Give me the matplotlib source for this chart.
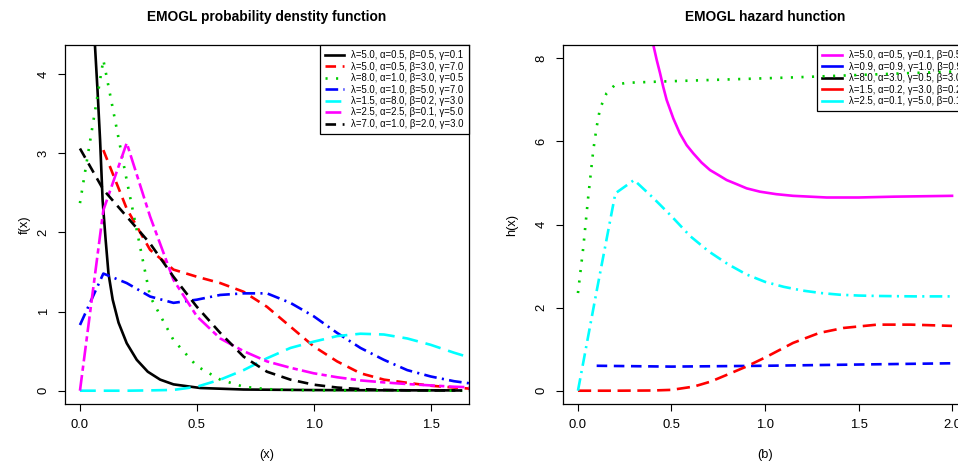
import matplotlib
matplotlib.use("Agg")
import matplotlib.pyplot as plt
import numpy as np

plt.rcParams['font.family'] = ['Liberation Sans', 'DejaVu Sans']

# ---------------- PDF panel data ----------------
pdf_labels = ["λ=5.0, α=0.5, β=0.5, γ=0.1",
              "λ=5.0, α=0.5, β=3.0, γ=7.0",
              "λ=8.0, α=1.0, β=3.0, γ=0.5",
              "λ=5.0, α=1.0, β=5.0, γ=7.0",
              "λ=1.5, α=8.0, β=0.2, γ=3.0",
              "λ=2.5, α=2.5, β=0.1, γ=5.0",
              "λ=7.0, α=1.0, β=2.0, γ=3.0"]
pdf_colors = ["black", "#FF0000", "#00CD00", "#0000FF", "#00FFFF", "#FF00FF", "black"]

x_black = [0.03, 0.05, 0.064, 0.075, 0.086, 0.097, 0.11, 0.122, 0.14, 0.165, 0.2,
           0.243, 0.29, 0.343, 0.4, 0.515, 0.7, 1.0, 1.3, 1.6]
y_black = [12.0, 6.5, 4.37, 3.8, 3.17, 2.4, 1.9, 1.48, 1.15, 0.86, 0.6,
           0.39, 0.24, 0.14, 0.08, 0.034, 0.015, 0.008, 0.005, 0.004]

x_grid = [0.0, 0.1, 0.2, 0.3, 0.4, 0.5, 0.6, 0.7, 0.8, 0.9, 1.0,
          1.1, 1.2, 1.3, 1.4, 1.5, 1.6, 1.7]
x_red = x_grid[1:]
y_red = [3.04, 2.3, 1.78, 1.53, 1.44, 1.36, 1.25, 1.06, 0.81, 0.56,
         0.37, 0.22, 0.14, 0.10, 0.063, 0.04, 0.02]
y_green = [2.37, 4.18, 2.66, 1.19, 0.64, 0.31, 0.14, 0.05, 0.02, 0.01, 0.005,
           0.003, 0.002, 0.001, 0.001, 0.0, 0.0, 0.0]
y_blue = [0.83, 1.48, 1.36, 1.19, 1.11, 1.15, 1.21, 1.23, 1.23, 1.11, 0.94,
          0.73, 0.54, 0.39, 0.26, 0.18, 0.12, 0.08]
y_cyan = [0.0, 0.0, 0.0, 0.004, 0.01, 0.05, 0.14, 0.26, 0.41, 0.54, 0.62,
          0.69, 0.72, 0.71, 0.66, 0.58, 0.48, 0.39]
y_magenta = [0.0, 2.28, 3.13, 2.2, 1.4, 0.94, 0.66, 0.5, 0.37, 0.29, 0.22,
             0.17, 0.13, 0.105, 0.084, 0.067, 0.05, 0.04]
y_blackdash = [3.06, 2.54, 2.2, 1.86, 1.44, 1.06, 0.73, 0.43, 0.24, 0.14, 0.076,
               0.04, 0.02, 0.01, 0.005, 0.004, 0.003, 0.003]

# ---------------- Hazard panel data ----------------
haz_labels = ["λ=5.0, α=0.5, γ=0.1, β=0.5",
              "λ=0.9, α=0.9, γ=1.0, β=0.9",
              "λ=8.0, α=3.0, γ=0.5, β=3.0",
              "λ=1.5, α=0.2, γ=3.0, β=0.2",
              "λ=2.5, α=0.1, γ=5.0, β=0.1"]
haz_colors = ["#FF00FF", "#0000FF", "black", "#FF0000", "#00FFFF"]

xh_mag = [0.34, 0.37, 0.403, 0.421, 0.439, 0.456, 0.474, 0.51, 0.545, 0.581,
          0.617, 0.661, 0.706, 0.751, 0.795, 0.849, 0.902, 0.973, 1.06, 1.15,
          1.33, 1.5, 1.69, 2.0]
yh_mag = [10.3, 9.2, 8.32, 7.96, 7.64, 7.31, 7.0, 6.55, 6.19, 5.91,
          5.71, 5.49, 5.31, 5.19, 5.07, 4.97, 4.87, 4.79, 4.73, 4.69,
          4.65, 4.65, 4.67, 4.69]
xh_blue = [0.1, 0.5, 1.0, 1.5, 2.0]
yh_blue = [0.6, 0.58, 0.6, 0.63, 0.66]
xh_green = [0.0, 0.029, 0.055, 0.082, 0.1, 0.118, 0.153, 0.198, 0.26, 0.438,
            0.795, 1.15, 1.51, 2.0]
yh_green = [2.35, 3.47, 4.67, 5.79, 6.35, 6.79, 7.16, 7.36, 7.41, 7.44,
            7.49, 7.54, 7.6, 7.68]
xh_red = [0.0, 0.2, 0.4, 0.5, 0.62, 0.71, 0.795, 0.9, 1.01, 1.15, 1.29, 1.42,
          1.6, 1.78, 2.0]
yh_red = [0.0, 0.0, 0.005, 0.02, 0.1, 0.22, 0.38, 0.58, 0.82, 1.15, 1.39, 1.51,
          1.59, 1.59, 1.56]
xh_cyan = [0.0, 0.1, 0.2, 0.3, 0.4, 0.5, 0.6, 0.7, 0.8, 0.9, 1.0, 1.1, 1.2,
           1.3, 1.4, 1.5, 1.6, 1.8, 2.0]
yh_cyan = [0.0, 2.4, 4.75, 5.07, 4.65, 4.2, 3.72, 3.35, 3.05, 2.8, 2.62, 2.5,
           2.41, 2.35, 2.31, 2.29, 2.28, 2.27, 2.27]

# ---------------- Figure ----------------
W, H = 958, 463
fig = plt.figure(figsize=(W / 100, H / 100), dpi=100)
ax1 = fig.add_axes([65 / W, 59 / H, 404 / W, 359 / H])
ax2 = fig.add_axes([563 / W, 59 / H, 404 / W, 359 / H])

LW = 1.9
dash = (4, 2.5)
dots = (0.8, 3.2)
dotdash = (4.8, 2, 0.8, 2)
longdash = (6, 3)
twodash = (6, 1.6, 2, 1.6)

TITLE_FS = 9.9
TICK_FS = 9.4
LAB_FS = 9.2
LEG_FS = 6.9

ax1.plot(x_black, y_black, color=pdf_colors[0], lw=LW, label=pdf_labels[0])
ax1.plot(x_red, y_red, color=pdf_colors[1], lw=LW, dashes=dash, label=pdf_labels[1])
ax1.plot(x_grid, y_green, color=pdf_colors[2], lw=LW, dashes=dots, label=pdf_labels[2])
ax1.plot(x_grid, y_blue, color=pdf_colors[3], lw=LW, dashes=dotdash, label=pdf_labels[3])
ax1.plot(x_grid, y_cyan, color=pdf_colors[4], lw=LW, dashes=longdash, label=pdf_labels[4])
ax1.plot(x_grid, y_magenta, color=pdf_colors[5], lw=LW, dashes=twodash, label=pdf_labels[5])
ax1.plot(x_grid, y_blackdash, color=pdf_colors[6], lw=LW, dashes=dash, label=pdf_labels[6])

ax1.set_xlim(-0.064, 1.664)
ax1.set_ylim(-0.168, 4.368)
ax1.set_xticks([0.0, 0.5, 1.0, 1.5])
ax1.set_xticklabels(["0.0", "0.5", "1.0", "1.5"])
ax1.set_yticks([0, 1, 2, 3, 4])
ax1.set_title("EMOGL probability denstity function", fontsize=TITLE_FS,
              fontweight='bold', pad=17)
ax1.set_xlabel("(x)", fontsize=LAB_FS)
ax1.set_ylabel("f(x)", fontsize=LAB_FS, va='center')
ax1.xaxis.set_label_coords(0.5, -0.125)
ax1.yaxis.set_label_coords(-0.10, 0.5)

leg1 = ax1.legend(loc='upper right', borderaxespad=0, fontsize=LEG_FS,
                  fancybox=False, edgecolor='black', framealpha=1,
                  handlelength=2.0, handletextpad=0.75, labelspacing=0.15,
                  borderpad=0.55)
leg1.get_frame().set_linewidth(0.9)

# Hazard panel
ax2.plot(xh_mag, yh_mag, color=haz_colors[0], lw=LW)
ax2.plot(xh_blue, yh_blue, color=haz_colors[1], lw=LW, dashes=(4, 2.5))
ax2.plot(xh_red, yh_red, color=haz_colors[3], lw=LW, dashes=(5, 2.5))
ax2.plot(xh_cyan, yh_cyan, color=haz_colors[4], lw=LW, dashes=dotdash)
handles = [plt.Line2D([], [], color=c, lw=LW) for c in haz_colors]
leg2 = ax2.legend(handles, haz_labels, loc='upper right', borderaxespad=0,
                  fontsize=LEG_FS, fancybox=False, edgecolor='black', framealpha=1,
                  handlelength=2.0, handletextpad=0.75, labelspacing=0.15,
                  borderpad=0.55)
leg2.get_frame().set_linewidth(0.9)
ax2.plot(xh_green, yh_green, color="#00CD00", lw=LW, dashes=dots, zorder=10)

ax2.set_xlim(-0.08, 2.08)
ax2.set_ylim(-0.32, 8.32)
ax2.set_xticks([0.0, 0.5, 1.0, 1.5, 2.0])
ax2.set_xticklabels(["0.0", "0.5", "1.0", "1.5", "2.0"])
ax2.set_yticks([0, 2, 4, 6, 8])
ax2.set_title("EMOGL hazard hunction", fontsize=TITLE_FS, fontweight='bold', pad=17)
ax2.set_xlabel("(b)", fontsize=LAB_FS)
ax2.set_ylabel("h(x)", fontsize=LAB_FS, va='center')
ax2.xaxis.set_label_coords(0.5, -0.125)
ax2.yaxis.set_label_coords(-0.126, 0.5)

for ax in (ax1, ax2):
    ax.tick_params(direction='out', length=5, width=0.8, labelsize=TICK_FS, pad=6)
    for lab in ax.get_yticklabels():
        lab.set_rotation(90)
        lab.set_va('center')
    for sp in ax.spines.values():
        sp.set_linewidth(0.9)

fig.savefig("out.png", dpi=100)
